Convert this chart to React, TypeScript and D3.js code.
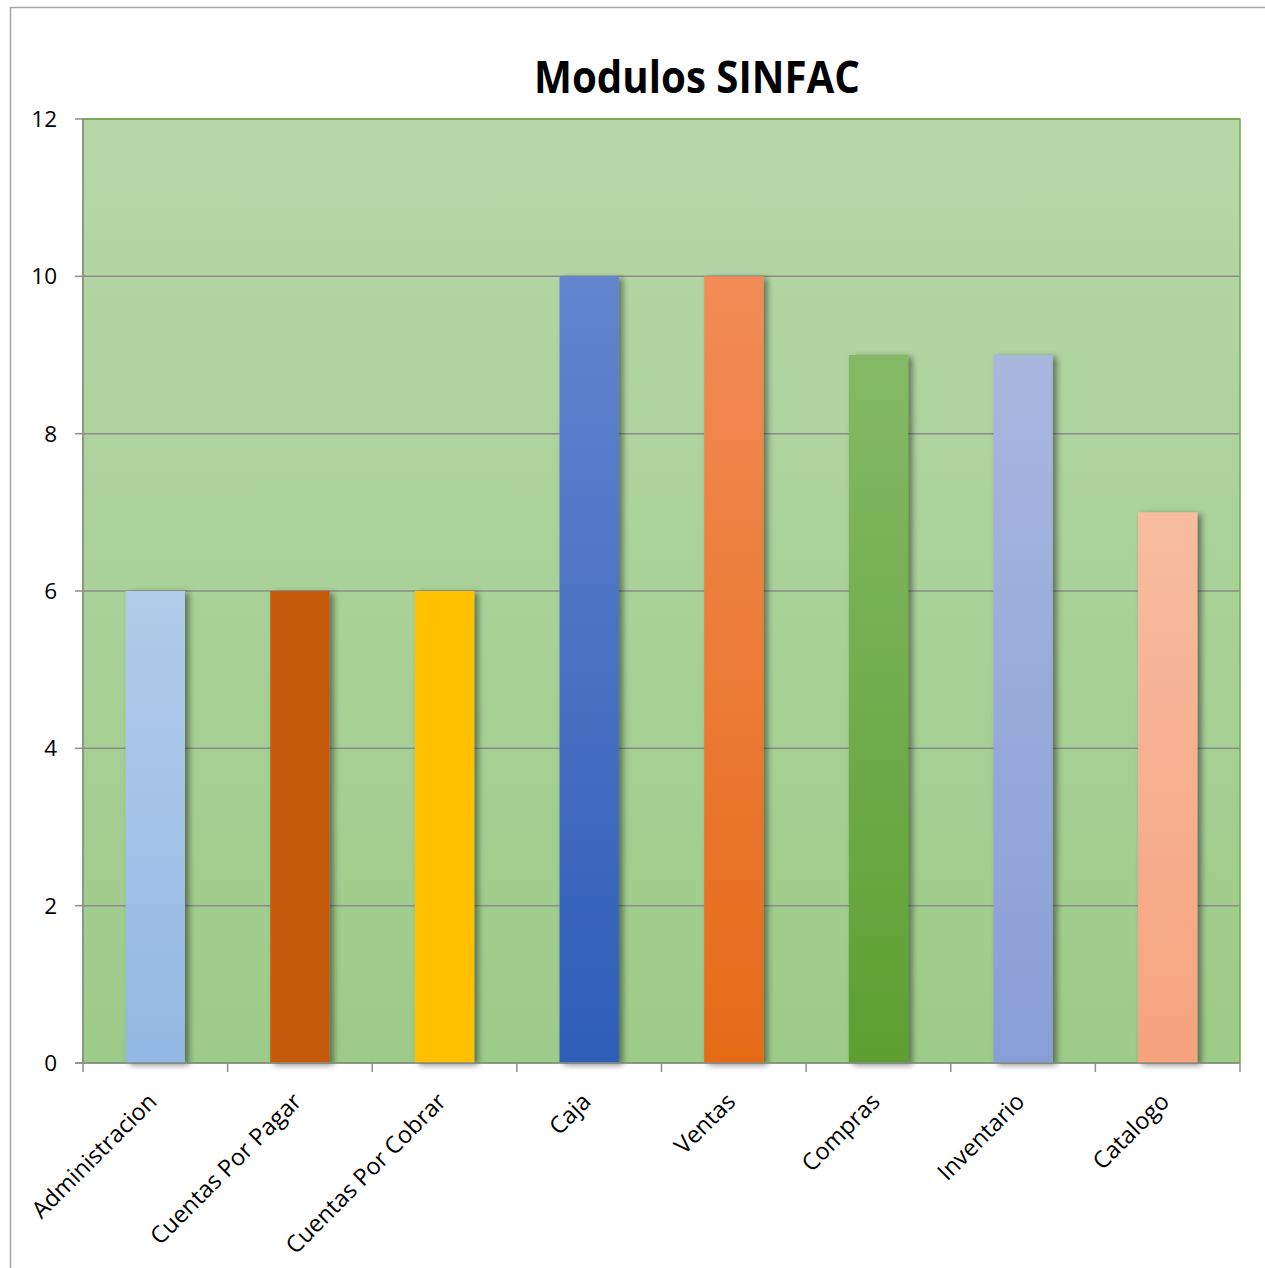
import React from "react";
import * as d3 from "d3";

const categories = ["Administracion", "Cuentas Por Pagar", "Cuentas Por Cobrar", "Caja", "Ventas", "Compras", "Inventario", "Catalogo"];
const values = [6, 6, 6, 10, 10, 9, 9, 7];
const topColors = ["#B1CCEA", "#C55A11", "#FFC000", "#6385CE", "#F28C56", "#84BA66", "#A9B7DF", "#F7BCA1"];
const bottomColors = ["#93B8E3", "#C55A11", "#FFC000", "#2E5DB8", "#E66B18", "#5E9F31", "#899ED6", "#F6A37E"];
const yTicks = [0, 2, 4, 6, 8, 10, 12];
const title = "Modulos SINFAC";

const W = 1265, H = 1268;
const plot = { left: 83, top: 119, right: 1240, bottom: 1063 };

export default function App() {
  const x = d3.scaleBand<string>().domain(categories).range([plot.left, plot.right]).paddingInner(0.59).paddingOuter(0.295);
  const xb = d3.scaleBand<string>().domain(categories).range([plot.left, plot.right]);
  const y = d3.scaleLinear().domain([0, 12]).range([plot.bottom, plot.top]);
  const font = "'Open Sans', 'DejaVu Sans', sans-serif";
  return (
    <svg width={W} height={H} style={{ position: "absolute", left: 0, top: 0 }}>
      <defs>
        <linearGradient id="bg" x1="0" y1="0" x2="0" y2="1">
          <stop offset="0" stopColor="#B7D7A8" />
          <stop offset="1" stopColor="#9DCB89" />
        </linearGradient>
        {categories.map((c, i) => (
          <linearGradient key={c} id={"g" + i} x1="0" y1="0" x2="0" y2="1">
            <stop offset="0" stopColor={topColors[i]} />
            <stop offset="1" stopColor={bottomColors[i]} />
          </linearGradient>
        ))}
        <filter id="sh" x="-30%" y="-5%" width="160%" height="110%">
          <feDropShadow dx="4" dy="2" stdDeviation="3" floodColor="#000" floodOpacity="0.45" />
        </filter>
      </defs>
      <rect x={0} y={0} width={W} height={H} fill="#fff" />
      <rect x={10.5} y={7.5} width={W + 10} height={H + 10} fill="none" stroke="#A6A6A6" strokeWidth={1.5} />
      <text x={697} y={93} textAnchor="middle" fontFamily={font} fontWeight="bold" fontSize={44} textLength={326} lengthAdjust="spacingAndGlyphs" fill="#000">{title}</text>
      <rect x={plot.left} y={plot.top} width={plot.right - plot.left} height={plot.bottom - plot.top} fill="url(#bg)" />
      {yTicks.filter(t => t > 0).map(t => (
        <line key={t} x1={plot.left} x2={plot.right} y1={y(t)} y2={y(t)} stroke="#8C8C8C" strokeWidth={1.5} />
      ))}
      <rect x={plot.left} y={plot.top} width={plot.right - plot.left} height={plot.bottom - plot.top} fill="none" stroke="#70AD47" strokeWidth={1.5} />
      {categories.map((c, i) => (
        <rect key={c} x={x(c)} y={y(values[i])} width={x.bandwidth()} height={y(0) - y(values[i])} fill={`url(#g${i})`} filter="url(#sh)" />
      ))}
      <line x1={plot.left} x2={plot.left} y1={plot.top} y2={plot.bottom} stroke="#8C8C8C" strokeWidth={1.5} />
      <line x1={plot.left - 8} x2={plot.right} y1={plot.bottom} y2={plot.bottom} stroke="#8C8C8C" strokeWidth={1.5} />
      {yTicks.map(t => (
        <g key={t}>
          <line x1={plot.left - 8} x2={plot.left} y1={y(t)} y2={y(t)} stroke="#8C8C8C" strokeWidth={1.5} />
          <text x={57} y={y(t) + 8} textAnchor="end" fontFamily={font} fontSize={22.5} fill="#000">{t}</text>
        </g>
      ))}
      {categories.map(c => (
        <line key={c} x1={xb(c)} x2={xb(c)} y1={plot.bottom} y2={plot.bottom + 9} stroke="#8C8C8C" strokeWidth={1.5} />
      ))}
      <line x1={plot.right} x2={plot.right} y1={plot.bottom} y2={plot.bottom + 9} stroke="#8C8C8C" strokeWidth={1.5} />
      {categories.map(c => {
        const cx = (xb(c) as number) + xb.bandwidth() / 2 + 3;
        const cy = plot.bottom + 40;
        return (
          <text key={c} x={cx} y={cy} transform={`rotate(-45 ${cx} ${cy})`} textAnchor="end" fontFamily={font} fontSize={23.5} fill="#000">{c}</text>
        );
      })}
    </svg>
  );
}
